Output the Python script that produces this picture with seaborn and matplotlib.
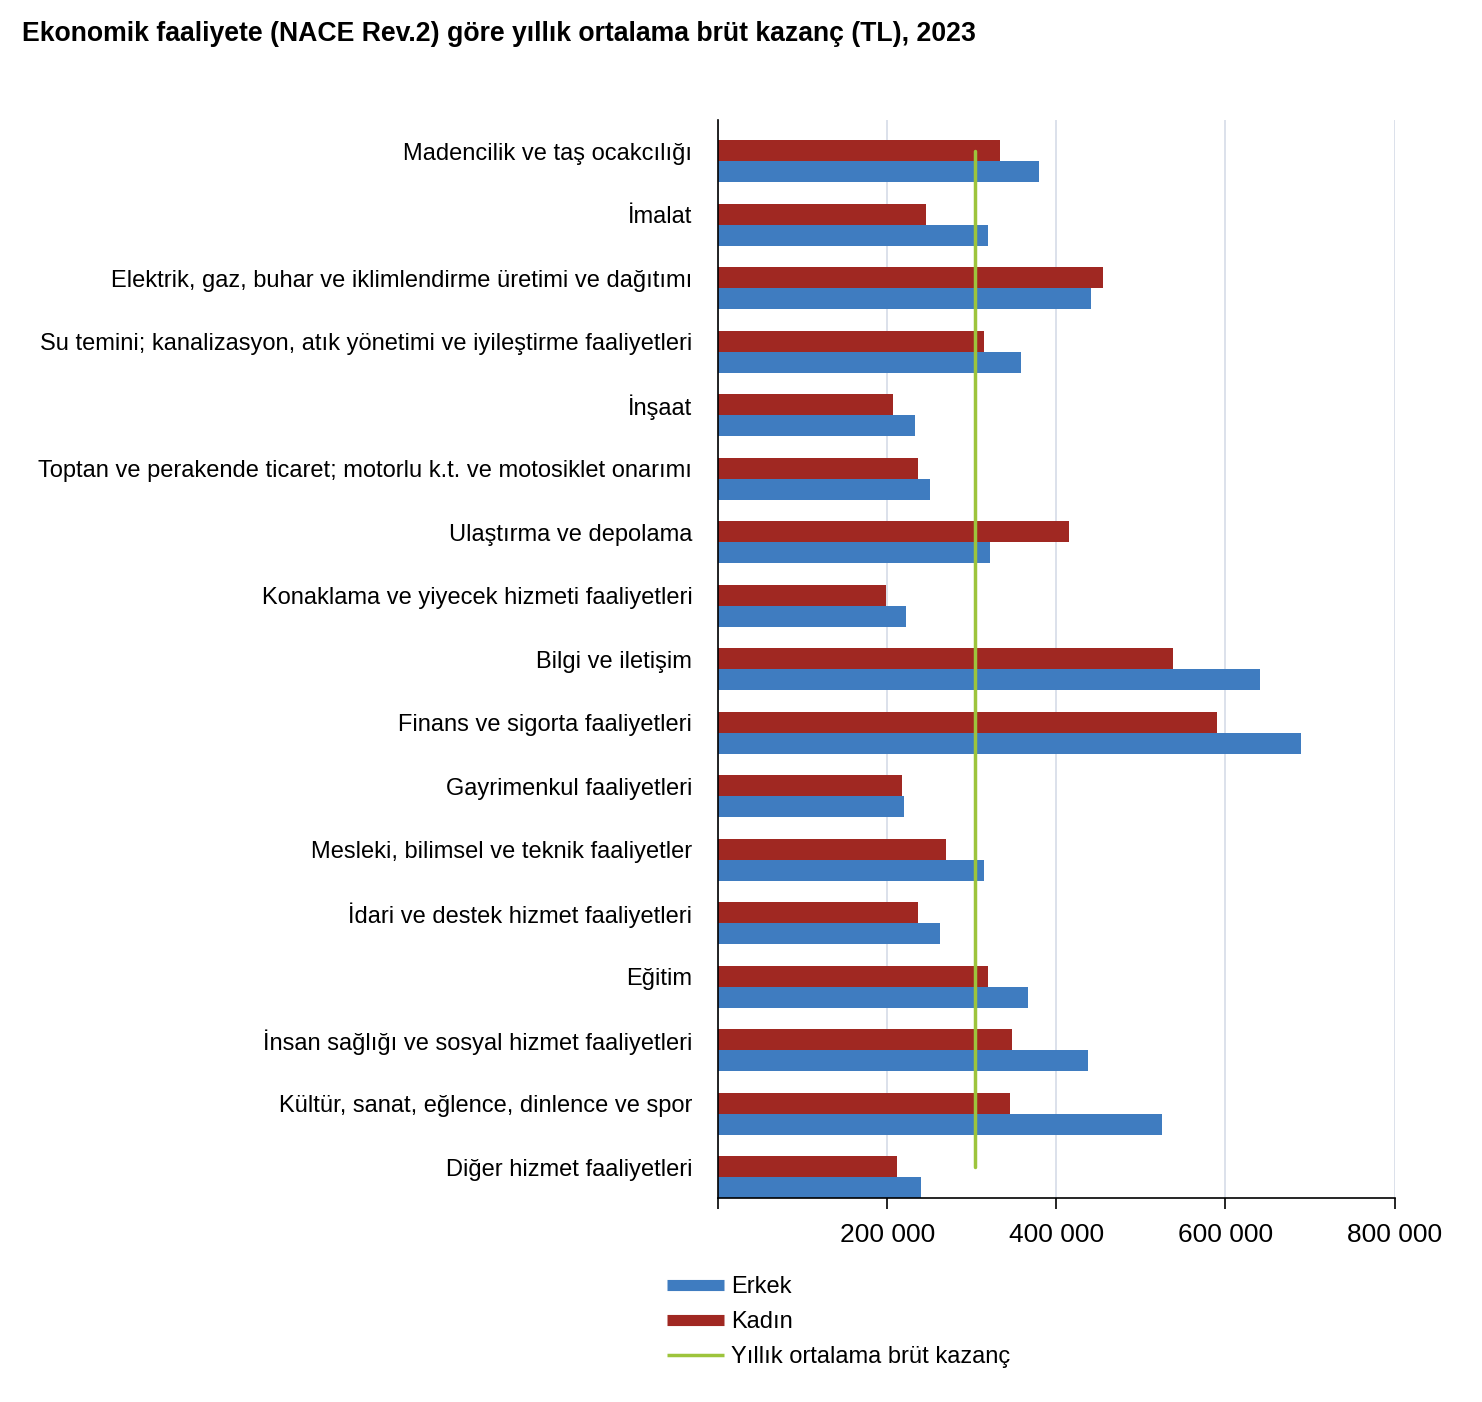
import numpy as np
import pandas as pd
import matplotlib.pyplot as plt
import matplotlib.transforms as mtransforms
import seaborn as sns
from matplotlib.lines import Line2D
from matplotlib.ticker import FuncFormatter

# Data (TL)
categories = [
    "Madencilik ve taş ocakcılığı",
    "İmalat",
    "Elektrik, gaz, buhar ve iklimlendirme üretimi ve dağıtımı",
    "Su temini; kanalizasyon, atık yönetimi ve iyileştirme faaliyetleri",
    "İnşaat",
    "Toptan ve perakende ticaret; motorlu k.t. ve motosiklet onarımı",
    "Ulaştırma ve depolama",
    "Konaklama ve yiyecek hizmeti faaliyetleri",
    "Bilgi ve iletişim",
    "Finans ve sigorta faaliyetleri",
    "Gayrimenkul faaliyetleri",
    "Mesleki, bilimsel ve teknik faaliyetler",
    "İdari ve destek hizmet faaliyetleri",
    "Eğitim",
    "İnsan sağlığı ve sosyal hizmet faaliyetleri",
    "Kültür, sanat, eğlence, dinlence ve spor",
    "Diğer hizmet faaliyetleri",
]
kadin = [334000, 246000, 455000, 314000, 207000, 236000, 415000, 199000,
         538000, 590000, 218000, 270000, 236000, 319000, 348000, 345000, 212000]
erkek = [380000, 319000, 441000, 358000, 233000, 251000, 322000, 222000,
         641000, 689000, 220000, 314000, 262000, 366000, 437000, 525000, 240000]
ortalama = 304000

sns.set_style("white")
plt.rcParams["font.family"] = ["Liberation Sans", "DejaVu Sans"]
plt.rcParams["text.color"] = "black"
plt.rcParams["xtick.color"] = "black"
plt.rcParams["ytick.color"] = "black"

data = pd.DataFrame({
    "kategori": categories * 2,
    "cinsiyet": ["Kadın"] * len(categories) + ["Erkek"] * len(categories),
    "kazanc": kadin + erkek,
})

colors = {"Erkek": "#3F7CC0", "Kadın": "#A02822"}
green = "#9DC43C"

fig = plt.figure(figsize=(14.82, 14.02), dpi=100)
ax = fig.add_axes([0.4845, 0.1455, 0.4565, 0.769])

sns.barplot(data=data, y="kategori", x="kazanc", hue="cinsiyet",
            hue_order=["Kadın", "Erkek"], palette=colors, orient="h",
            width=0.66, saturation=1, linewidth=0, ax=ax, legend=False)

# mean line through the Kadın bars
off = 0.66 / 4
ax.plot([ortalama, ortalama], [0 - off, len(categories) - 1 - off],
        color=green, linewidth=2.5, zorder=5)

ax.set_xlim(0, 800000)
ax.set_ylim(len(categories) - 1 + 0.33, -0.65)
ax.set_xticks([0, 200000, 400000, 600000, 800000])
ax.xaxis.set_major_formatter(FuncFormatter(
    lambda v, p: "" if v == 0 else f"{int(v):,}".replace(",", " ")))
ax.grid(axis="x", color="#D6DCE8", linewidth=1.2)
ax.set_axisbelow(True)
ax.set_xlabel("")
ax.set_ylabel("")

for s in ["top", "right"]:
    ax.spines[s].set_visible(False)
for s in ["left", "bottom"]:
    ax.spines[s].set_color("black")
    ax.spines[s].set_linewidth(1.2)

ax.tick_params(axis="x", direction="out", length=8, width=1.2, color="black",
               labelsize=19, pad=10, bottom=True)
ax.tick_params(axis="y", length=0, labelsize=17, pad=18.5)

# category labels sit level with the upper (Kadın) bar
shift = mtransforms.ScaledTranslation(0, 10 / 100, fig.dpi_scale_trans)
for lab in ax.get_yticklabels():
    lab.set_transform(lab.get_transform() + shift)

fig.text(0.015, 0.976, "Ekonomik faaliyete (NACE Rev.2) göre yıllık ortalama brüt kazanç (TL), 2023",
         fontsize=19.2, fontweight="bold", ha="left", va="center")

handles = [
    Line2D([], [], color=colors["Erkek"], linewidth=8, solid_capstyle="butt"),
    Line2D([], [], color=colors["Kadın"], linewidth=8, solid_capstyle="butt"),
    Line2D([], [], color=green, linewidth=2.5, solid_capstyle="butt"),
]
fig.legend(handles, ["Erkek", "Kadın", "Yıllık ortalama brüt kazanç"],
           loc="upper left", bbox_to_anchor=(0.436, 0.105), frameon=False,
           fontsize=17, handlelength=2.4, handletextpad=0.3, labelspacing=0.55)

fig.savefig("out.png", dpi=100)
